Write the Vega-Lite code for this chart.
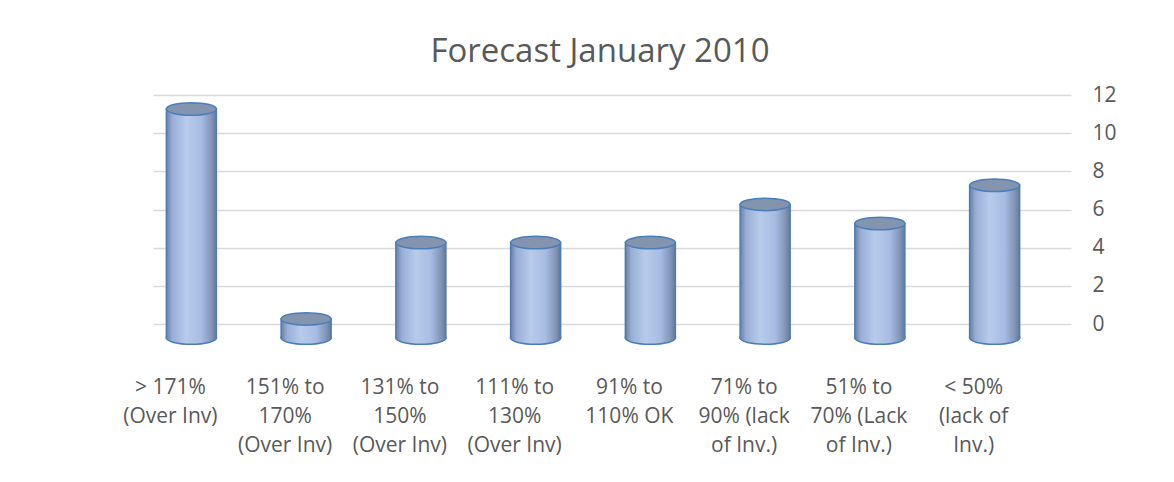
{
  "$schema": "https://vega.github.io/schema/vega-lite/v6.json",
  "autosize": "none",
  "width": 918,
  "height": 229,
  "padding": {"left": 153, "top": 95, "right": 103, "bottom": 158},
  "background": "white",
  "config": {
    "font": "Open Sans",
    "view": {"stroke": null}
  },
  "title": {
    "text": "Forecast January 2010",
    "fontSize": 33,
    "fontWeight": "normal",
    "color": "#595959",
    "anchor": "middle",
    "dx": -12,
    "offset": -11,
    "baseline": "alphabetic"
  },
  "data": {
    "values": [
      {"category": "> 171%\n(Over Inv)", "count": 12},
      {"category": "151% to\n170%\n(Over Inv)", "count": 1},
      {"category": "131% to\n150%\n(Over Inv)", "count": 5},
      {"category": "111% to\n130%\n(Over Inv)", "count": 5},
      {"category": "91% to\n110% OK", "count": 5},
      {"category": "71% to\n90% (lack\nof Inv.)", "count": 7},
      {"category": "51% to\n70% (Lack\nof Inv.)", "count": 6},
      {"category": "< 50%\n(lack of\nInv.)", "count": 8}
    ]
  },
  "encoding": {
    "x": {
      "field": "category",
      "type": "nominal",
      "sort": null,
      "scale": {"paddingInner": 0.564, "paddingOuter": 0.282},
      "axis": {
        "title": null,
        "domain": false,
        "ticks": false,
        "labelAngle": 0,
        "labelExpr": "split(datum.value, '\\n')",
        "labelFontSize": 21,
        "labelLineHeight": 29,
        "labelColor": "#595959",
        "labelPadding": 52,
        "labelOffset": -40,
        "labelOverlap": false,
        "labelLimit": 200
      }
    }
  },
  "layer": [
    {
      "mark": {
        "type": "bar",
        "xOffset": -19,
        "x2Offset": -19,
        "yOffset": 14,
        "y2Offset": 14,
        "stroke": "#4a7ebb",
        "strokeWidth": 1.5,
        "fill": {
          "gradient": "linear",
          "x1": 0, "y1": 0, "x2": 1, "y2": 0,
          "stops": [
            {"offset": 0, "color": "#6b7fa2"},
            {"offset": 0.12, "color": "#98aed6"},
            {"offset": 0.4, "color": "#b7cbeb"},
            {"offset": 0.7, "color": "#a7bce2"},
            {"offset": 0.9, "color": "#8195b7"},
            {"offset": 1, "color": "#687994"}
          ]
        }
      },
      "encoding": {
        "y": {
          "field": "count",
          "type": "quantitative",
          "scale": {"domain": [0, 12]},
          "axis": {
            "title": null,
            "orient": "right",
            "values": [0, 2, 4, 6, 8, 10, 12],
            "tickCount": 7,
            "labelOverlap": false,
            "domain": false,
            "ticks": false,
            "grid": true,
            "gridColor": "#d9d9d9",
            "gridWidth": 1.5,
            "labelFontSize": 21,
            "labelColor": "#595959",
            "labelPadding": 21
          }
        }
      }
    },
    {
      "mark": {
        "type": "point",
        "shape": "M-1,-0.06L-1,0A1,0.25,0,0,0,1,0L1,-0.06",
        "size": 2500,
        "filled": true,
        "xOffset": -19,
        "yOffset": 14,
        "stroke": "#4a7ebb",
        "strokeWidth": 1.5,
        "opacity": 1,
        "fill": {
          "gradient": "linear",
          "x1": 0, "y1": 0, "x2": 1, "y2": 0,
          "stops": [
            {"offset": 0, "color": "#6b7fa2"},
            {"offset": 0.12, "color": "#98aed6"},
            {"offset": 0.4, "color": "#b7cbeb"},
            {"offset": 0.7, "color": "#a7bce2"},
            {"offset": 0.9, "color": "#8195b7"},
            {"offset": 1, "color": "#687994"}
          ]
        }
      },
      "encoding": {
        "y": {"datum": 0, "type": "quantitative"}
      }
    },
    {
      "mark": {
        "type": "point",
        "shape": "M-1,0A1,0.25,0,1,0,1,0A1,0.25,0,1,0,-1,0Z",
        "size": 2500,
        "filled": true,
        "xOffset": -19,
        "yOffset": 14,
        "fill": "#8494ae",
        "stroke": "#4a7ebb",
        "strokeWidth": 1.5,
        "opacity": 1
      },
      "encoding": {
        "y": {"field": "count", "type": "quantitative"}
      }
    }
  ]
}
